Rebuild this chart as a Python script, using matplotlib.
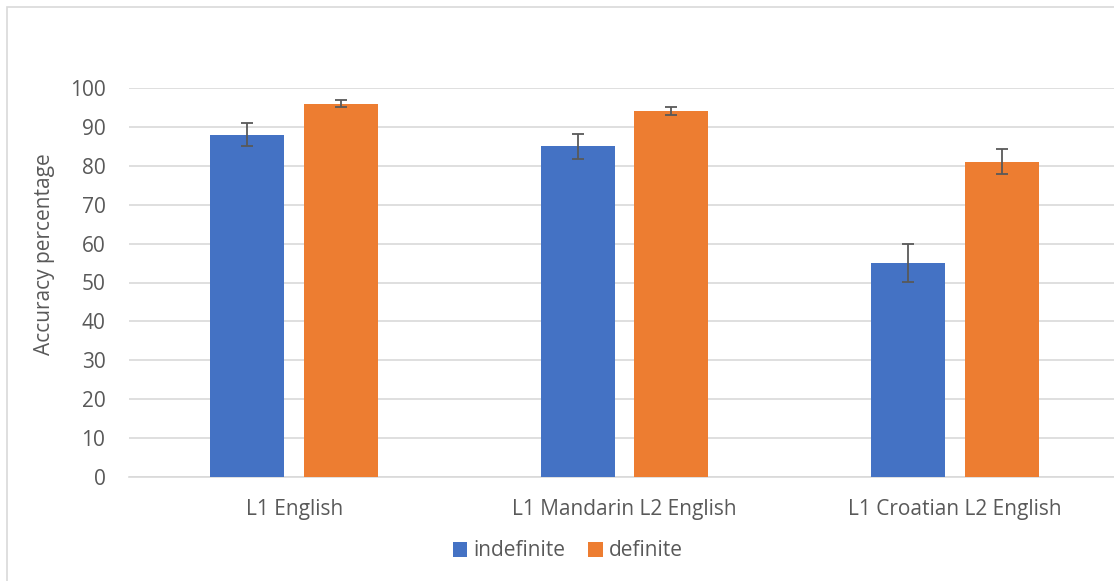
import matplotlib.pyplot as plt
import numpy as np
from matplotlib.patches import Rectangle

# Dados
grupos = ['L1 English', 'L1 Mandarin L2 English', 'L1 Croatian L2 English']
indefinite = [88, 85, 55]
definite = [96, 94, 81]
erro_indefinite = [3.0, 3.2, 4.9]
erro_definite = [0.9, 1.0, 3.2]

cor_texto = '#595959'
cor_grade = '#d9d9d9'
plt.rcParams['font.family'] = ['Open Sans', 'DejaVu Sans']

fig = plt.figure(figsize=(11.14, 5.81), dpi=100)
ax = fig.add_axes([129 / 1114, 104 / 581, 991 / 1114, 389 / 581])

x = np.arange(len(grupos))
largura = 0.224
desloc = largura / 2 + 0.03
estilo_erro = dict(ecolor=cor_texto, elinewidth=1.3, capsize=4.5, capthick=1.3)

ax.bar(x - desloc, indefinite, largura, color='#4472C4', label='indefinite',
       yerr=erro_indefinite, error_kw=estilo_erro, zorder=3)
ax.bar(x + desloc, definite, largura, color='#ED7D31', label='definite',
       yerr=erro_definite, error_kw=estilo_erro, zorder=3)

ax.set_xlim(-0.5, 2.5)
ax.set_ylim(0, 100)
ax.set_yticks(range(0, 101, 10))
ax.set_xticks(x)
ax.set_xticklabels(grupos)
ax.grid(axis='y', color=cor_grade, linewidth=1.2, zorder=0)
ax.tick_params(axis='both', length=0, labelsize=15, colors=cor_texto)
ax.tick_params(axis='y', pad=17)
ax.tick_params(axis='x', pad=15.5)
for lado in ['top', 'right', 'left']:
    ax.spines[lado].set_visible(False)
ax.spines['bottom'].set_color(cor_grade)
ax.spines['bottom'].set_linewidth(1.2)

fig.text(45 / 1114, 1 - 254 / 581, 'Accuracy percentage', rotation=90,
         ha='center', va='center', fontsize=15, color=cor_texto)

fig.legend(loc='center', bbox_to_anchor=(568 / 1114, 1 - 551 / 581), ncol=2,
           frameon=False, fontsize=15, labelcolor=cor_texto,
           handlelength=0.7, handleheight=0.7, handletextpad=0.3, columnspacing=1.1)

fig.patches.append(Rectangle((7 / 1114, -0.01), 1.1, 1 - 7 / 581 + 0.01, transform=fig.transFigure,
                             fill=False, edgecolor=cor_grade, linewidth=1.2))

fig.savefig('out.png', dpi=100)
